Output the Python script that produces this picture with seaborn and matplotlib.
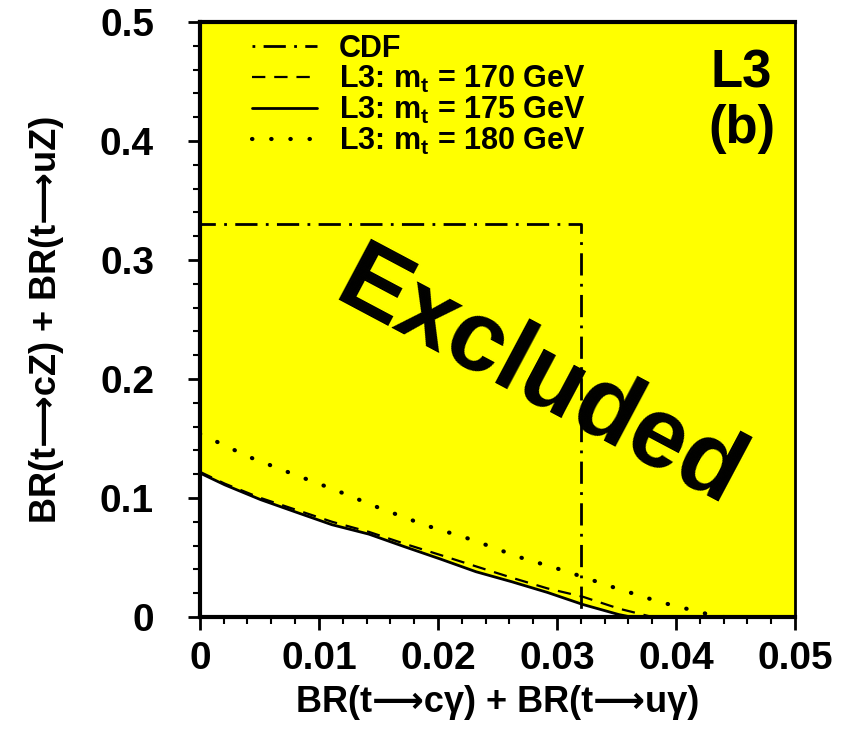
import numpy as np
import pandas as pd
import seaborn as sns
import matplotlib.pyplot as plt

# Limit curves
x_175 = [0.0, 0.0021, 0.0051, 0.0081, 0.0111, 0.0142, 0.0172, 0.0202, 0.0232, 0.0262, 0.0292, 0.0322, 0.0352, 0.0362]
y_175 = [0.121, 0.111, 0.0986, 0.088, 0.0775, 0.0696, 0.059, 0.0487, 0.038, 0.0296, 0.0206, 0.0104, 0.002, 0.0]

x_170 = [0.0, 0.0021, 0.0051, 0.0081, 0.0111, 0.0142, 0.0172, 0.0202, 0.0232, 0.0262, 0.0292, 0.0322, 0.0352, 0.0380]
y_170 = [0.122, 0.112, 0.100, 0.090, 0.080, 0.0715, 0.0615, 0.0521, 0.0425, 0.033, 0.024, 0.0169, 0.007, 0.0]

x_180 = [0.0, 0.0041, 0.0077, 0.0113, 0.0151, 0.0190, 0.0229, 0.0267, 0.0307, 0.0346, 0.0386, 0.0425, 0.0440]
y_180 = [0.154, 0.1346, 0.1206, 0.107, 0.0915, 0.0769, 0.0648, 0.0507, 0.0386, 0.0254, 0.0127, 0.0028, 0.0]

x_cdf = [0.0, 0.0, 0.032, 0.032]
y_cdf = [0.0, 0.33, 0.33, 0.0]

x_ticks = [0, 0.01, 0.02, 0.03, 0.04, 0.05]
x_labels = ['0', '0.01', '0.02', '0.03', '0.04', '0.05']
y_ticks = [0, 0.1, 0.2, 0.3, 0.4, 0.5]
y_labels = ['0', '0.1', '0.2', '0.3', '0.4', '0.5']

sns.set_style('ticks')
plt.rcParams['font.family'] = ['Liberation Sans', 'DejaVu Sans']
plt.rcParams['font.weight'] = 'bold'
plt.rcParams['mathtext.fontset'] = 'custom'
plt.rcParams['mathtext.rm'] = 'Liberation Sans:bold'
plt.rcParams['mathtext.it'] = 'Liberation Sans:bold'
plt.rcParams['mathtext.bf'] = 'Liberation Sans:bold'
for k in ['text.color', 'axes.labelcolor', 'xtick.color', 'ytick.color', 'axes.edgecolor']:
    plt.rcParams[k] = 'black'

fig = plt.figure(figsize=(8.54, 7.31), dpi=100)
ax = fig.add_axes([0.234, 0.156, 0.697, 0.814])

# excluded region: above the 175 GeV curve
fx = np.array(x_175 + [0.05])
fy = np.array(y_175 + [0.0])
ax.fill_between(fx, fy, 0.5, color='#ffff00', lw=0, zorder=0)

sns.lineplot(x=x_cdf, y=y_cdf, sort=False, estimator=None, ax=ax, color='black',
             lw=2, linestyle=(0, (1, 3, 8, 3)), label='CDF')
sns.lineplot(x=x_170, y=y_170, sort=False, estimator=None, ax=ax, color='black',
             lw=1.6, linestyle=(0, (6, 4)), label='L3: m$_\\mathregular{t}$ = 170 GeV')
sns.lineplot(x=x_175, y=y_175, sort=False, estimator=None, ax=ax, color='black',
             lw=2, linestyle='-', label='L3: m$_\\mathregular{t}$ = 175 GeV')
sns.lineplot(x=x_180, y=y_180, sort=False, estimator=None, ax=ax, color='black',
             lw=3, linestyle=(0, (0.1, 4.5)), dash_capstyle='round', label='L3: m$_\\mathregular{t}$ = 180 GeV')

ax.set_xlim(0, 0.05)
ax.set_ylim(0, 0.5)
ax.set_xticks(x_ticks)
ax.set_xticklabels(x_labels)
ax.set_yticks(y_ticks)
ax.set_yticklabels(y_labels)
ax.set_xticks(np.arange(0, 0.0501, 0.002), minor=True)
ax.set_yticks(np.arange(0, 0.501, 0.02), minor=True)
ax.tick_params(axis='both', which='major', labelsize=28, length=9, width=2, direction='out')
ax.tick_params(axis='x', which='major', pad=8)
ax.tick_params(axis='y', which='major', pad=24)
ax.tick_params(axis='both', which='minor', length=5, width=1.5, direction='out')
for lab in ax.get_xticklabels() + ax.get_yticklabels():
    lab.set_fontweight('bold')

for side in ['left', 'bottom', 'top']:
    ax.spines[side].set_linewidth(3)
ax.spines['right'].set_linewidth(2)
for side in ax.spines:
    ax.spines[side].set_visible(True)
    ax.spines[side].set_zorder(5)

ax.set_xlabel('BR(t\u27f6c\u03b3) + BR(t\u27f6u\u03b3)', fontsize=26, fontweight='bold', labelpad=6)
ax.set_ylabel('BR(t\u27f6cZ) + BR(t\u27f6uZ)', fontsize=26, fontweight='bold', labelpad=26)

leg = ax.legend(loc='upper left', bbox_to_anchor=(0.087, 0.98), frameon=False, fontsize=22,
                handlelength=2.15, handletextpad=0.7, labelspacing=0.0, borderaxespad=0,
                borderpad=0)
for t in leg.get_texts():
    t.set_fontweight('bold')

ax.text(0.0455, 0.457, 'L3', fontsize=38, fontweight='bold', ha='center', va='center')
ax.text(0.0455, 0.41, '(b)', fontsize=38, fontweight='bold', ha='center', va='center')
ax.text(0.0285, 0.199, 'Excluded', fontsize=72, fontweight='bold', ha='center', va='center',
        rotation=-28)

plt.savefig('out.png', dpi=100)
